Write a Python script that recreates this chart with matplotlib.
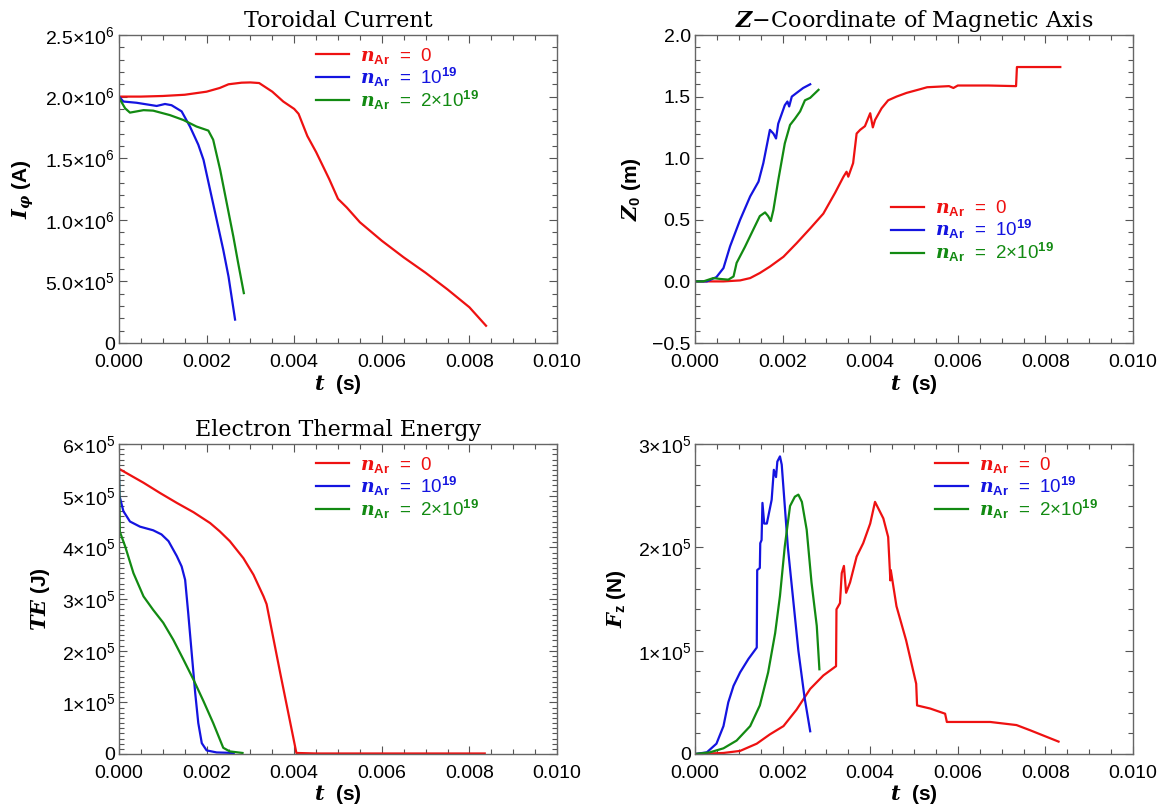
import numpy as np
import matplotlib
matplotlib.use('Agg')
import matplotlib.pyplot as plt
from matplotlib.ticker import MultipleLocator

plt.rcParams['font.family'] = ['Liberation Sans', 'DejaVu Sans']
plt.rcParams['mathtext.fontset'] = 'custom'
plt.rcParams['mathtext.it'] = 'DejaVu Serif:italic:bold'
plt.rcParams['mathtext.rm'] = 'Liberation Sans'
plt.rcParams['mathtext.bf'] = 'Liberation Sans:bold'

RED, BLUE, GREEN = '#ee1111', '#1414e0', '#128a12'

# --- toroidal current (A) ---
cur_t0 = [0, .0005, .001, .0015, .002, .0023, .0025, .0028, .003, .0032, .0035, .00375,
          .004, .0041, .0043, .0045, .0048, .005, .0052, .0055, .006, .0065, .007, .0075,
          .008, .00838]
cur_0 = [2.0, 2.0, 2.005, 2.015, 2.04, 2.07, 2.1, 2.113, 2.115, 2.11, 2.04, 1.96,
         1.9, 1.86, 1.68, 1.55, 1.33, 1.17, 1.1, 0.98, 0.83, 0.695, 0.57, 0.435,
         0.29, 0.14]
cur_t1 = [0, .0001, .0004, .00086, .00105, .0012, .00143, .00162, .00181, .00193, .00208,
          .00223, .00238, .0025, .00265]
cur_1 = [2.0, 1.96, 1.95, 1.924, 1.94, 1.93, 1.88, 1.757, 1.61, 1.486, 1.243,
         1.0, 0.757, 0.54, 0.19]
cur_t2 = [0, .00014, .00025, .00056, .00078, .00116, .00147, .00177, .00204, .00215,
          .00231, .00246, .00261, .00272, .00285]
cur_2 = [1.99, 1.905, 1.87, 1.89, 1.886, 1.85, 1.81, 1.757, 1.724, 1.65,
         1.405, 1.135, 0.865, 0.65, 0.405]

# --- Z of magnetic axis (m) ---
z_t0 = [0, .00065, .00103, .00126, .00148, .00171, .00202, .00232, .00263, .00293, .0032,
        .00339, .00346, .0035, .00361, .00369, .00377, .00388, .004, .00406, .00411,
        .00426, .00441, .0046, .00483, .00514, .0053, .0058, .0059, .006, .0067, .00733,
        .00735, .00834]
z_0 = [0, 0, .008, .027, .068, .12, .2, .31, .43, .55, .72,
       .85, .89, .85, .96, 1.2, 1.23, 1.26, 1.365, 1.25, 1.31,
       1.405, 1.47, 1.5, 1.53, 1.56, 1.576, 1.585, 1.57, 1.59, 1.59, 1.585,
       1.74, 1.74]
z_t1 = [0, .00027, .00049, .00065, .0008, .00103, .00126, .00145, .00156, .00171, .00179,
        .00185, .0019, .00205, .00211, .00215, .00221, .00232, .00247, .00263]
z_1 = [0, 0, .035, .108, .284, .5, .69, .81, .96, 1.23, 1.2,
       1.16, 1.28, 1.43, 1.46, 1.42, 1.5, 1.53, 1.57, 1.6]
z_t2 = [0, .00019, .00042, .00057, .00076, .00088, .00095, .00114, .00133, .00148, .0016,
        .00167, .00173, .00179, .0019, .00205, .00217, .00228, .0024, .00251, .00263, .00282]
z_2 = [0, 0, .027, .02, .014, .04, .15, .28, .42, .53, .56,
       .53, .49, .58, .82, 1.12, 1.27, 1.32, 1.38, 1.47, 1.49, 1.555]

# --- electron thermal energy (J) ---
te_t0 = [0, .00056, .00094, .00132, .0017, .00208, .0023, .00253, .00284, .00307, .0033,
         .00337, .00368, .00405, .0045, .006, .0075, .00835]
te_0 = [5.52, 5.25, 5.05, 4.86, 4.68, 4.47, 4.31, 4.12, 3.79, 3.47, 3.05,
        2.9, 1.57, 0.02, 0.01, 0.01, 0.01, 0.01]
te_t1 = [0, .00001, .0001, .00025, .00048, .00078, .00097, .00113, .00132, .00143, .00151,
         .00158, .00166, .00174, .00181, .00189, .002, .00223, .00262]
te_1 = [5.5, 5.0, 4.7, 4.5, 4.4, 4.33, 4.25, 4.12, 3.83, 3.63, 3.37,
        2.73, 1.95, 1.18, 0.6, 0.21, 0.07, 0.03, 0.02]
te_t2 = [0, .00002, .00014, .00033, .00056, .00078, .00101, .00124, .00147, .0017, .00193,
         .00215, .00238, .00253, .00282]
te_2 = [5.5, 4.3, 4.02, 3.5, 3.05, 2.79, 2.54, 2.21, 1.83, 1.44, 1.02,
        0.6, 0.12, 0.05, 0.02]

# --- vertical force (N) ---
f_t0 = [0, .00065, .00103, .00141, .00171, .00202, .00232, .00263, .00293, .00322, .00323,
        .00331, .00335, .0034, .00345, .00354, .00369, .00384, .004, .00411, .0043, .00441,
        .00444, .00446, .00447, .0046, .00482, .00505, .00507, .00537, .00571, .00575,
        .00597, .00674, .00734, .00765, .0083]
f_0 = [0, .01, .03, .1, .19, .27, .43, .63, .76, .85, 1.4,
       1.46, 1.75, 1.82, 1.56, 1.66, 1.91, 2.04, 2.23, 2.44, 2.28, 2.1,
       1.85, 1.68, 1.78, 1.43, 1.1, .68, .47, .44, .39, .31,
       .31, .31, .28, .23, .12]
f_t1 = [0, .00027, .00049, .00065, .00076, .00088, .00103, .00122, .00141, .00142, .00148,
        .00149, .00152, .00154, .00158, .00164, .00175, .0018, .00185, .00188, .00194,
        .00198, .00205, .00212, .00224, .00236, .0025, .00263]
f_1 = [0, .016, .1, .27, .5, .66, .79, .92, 1.03, 1.78, 1.8,
       2.04, 2.07, 2.43, 2.23, 2.23, 2.46, 2.75, 2.68, 2.83, 2.88,
       2.8, 2.4, 2.0, 1.5, 1.0, 0.55, 0.22]
f_t2 = [0, .00034, .00065, .00095, .00126, .00148, .00167, .00183, .00194, .00205, .00217,
        .00228, .00236, .00244, .00255, .00266, .00278, .00284]
f_2 = [0, .016, .055, .13, .27, .47, .79, 1.17, 1.53, 2.01, 2.4,
       2.49, 2.51, 2.44, 2.17, 1.66, 1.24, 0.82]

labels = [r'$n_{\mathbf{Ar}}$  =  0',
          r'$n_{\mathbf{Ar}}$  =  10$^{\mathbf{19}}$',
          r'$n_{\mathbf{Ar}}$  =  2×10$^{\mathbf{19}}$']
xticks = [0, .002, .004, .006, .008, .010]
xticklabels = ['0.000', '0.002', '0.004', '0.006', '0.008', '0.010']

fig = plt.figure(figsize=(11.6, 8.11), dpi=100)
W, H = 1160, 811


def make_ax(x0, y0, x1, y1):
    return fig.add_axes([x0 / W, 1 - y1 / H, (x1 - x0) / W, (y1 - y0) / H])


def style(ax, yticks, yticklabels, ylim, yminor, ylabel, title, leg_xy):
    ax.set_xlim(0, 0.01)
    ax.set_ylim(*ylim)
    ax.set_xticks(xticks, xticklabels)
    ax.set_yticks(yticks, yticklabels)
    ax.xaxis.set_minor_locator(MultipleLocator(0.0005))
    ax.yaxis.set_minor_locator(MultipleLocator(yminor))
    ax.tick_params(which='both', direction='in', top=True, right=True,
                   color='#555555', labelsize=14)
    ax.tick_params(which='major', length=6, width=0.8)
    ax.tick_params(which='minor', length=3.5, width=0.8)
    ax.tick_params(axis='x', pad=8)
    ax.tick_params(axis='y', pad=3)
    for s in ax.spines.values():
        s.set_color('#666666')
        s.set_linewidth(1.0)
    ax.set_xlabel(r'$t$  (s)', fontsize=15, fontweight='bold', labelpad=1)
    ax.set_ylabel(ylabel, fontsize=15, fontweight='bold', labelpad=7)
    if title:
        ax.set_title(title, family='DejaVu Serif', fontsize=16, pad=6)
    leg = ax.legend(loc='upper left', bbox_to_anchor=leg_xy, frameon=False,
                    fontsize=13.5, handlelength=1.75, handletextpad=0.6,
                    labelspacing=0.0, borderpad=0, borderaxespad=0,
                    labelcolor='linecolor')
    return leg


# top-left
ax = make_ax(119, 35, 557, 343)
ax.plot(cur_t0, np.array(cur_0) * 1e6, color=RED, lw=1.6, label=labels[0])
ax.plot(cur_t1, np.array(cur_1) * 1e6, color=BLUE, lw=1.6, label=labels[1])
ax.plot(cur_t2, np.array(cur_2) * 1e6, color=GREEN, lw=1.6, label=labels[2])
style(ax, [0, 5e5, 1e6, 1.5e6, 2e6, 2.5e6],
      ['0', r'5.0×10$^{\mathregular{5}}$', r'1.0×10$^{\mathregular{6}}$',
       r'1.5×10$^{\mathregular{6}}$', r'2.0×10$^{\mathregular{6}}$',
       r'2.5×10$^{\mathregular{6}}$'],
      (0, 2.5e6), 1e5, r'$I_{\varphi}$ (A)', 'Toroidal Current', (0.45, 0.965))

# top-right
ax = make_ax(695, 35, 1133, 343)
ax.plot(z_t0, z_0, color=RED, lw=1.6, label=labels[0])
ax.plot(z_t1, z_1, color=BLUE, lw=1.6, label=labels[1])
ax.plot(z_t2, z_2, color=GREEN, lw=1.6, label=labels[2])
style(ax, [-0.5, 0, 0.5, 1.0, 1.5, 2.0],
      ['−0.5', '0.0', '0.5', '1.0', '1.5', '2.0'],
      (-0.5, 2.0), 0.1, r'$Z_{\mathbf{0}}$ (m)',
      r'$Z$−Coordinate of Magnetic Axis', (0.447, 0.47))

# bottom-left
ax = make_ax(119, 444, 557, 754)
ax.plot(te_t0, np.array(te_0) * 1e5, color=RED, lw=1.6, label=labels[0])
ax.plot(te_t1, np.array(te_1) * 1e5, color=BLUE, lw=1.6, label=labels[1])
ax.plot(te_t2, np.array(te_2) * 1e5, color=GREEN, lw=1.6, label=labels[2])
style(ax, [0, 1e5, 2e5, 3e5, 4e5, 5e5, 6e5],
      ['0'] + [r'%d×10$^{\mathregular{5}}$' % k for k in range(1, 7)],
      (0, 6e5), 1e4, r'$TE$ (J)', 'Electron Thermal Energy', (0.45, 0.965))

# bottom-right
ax = make_ax(695, 444, 1133, 754)
ax.plot(f_t0, np.array(f_0) * 1e5, color=RED, lw=1.6, label=labels[0])
ax.plot(f_t1, np.array(f_1) * 1e5, color=BLUE, lw=1.6, label=labels[1])
ax.plot(f_t2, np.array(f_2) * 1e5, color=GREEN, lw=1.6, label=labels[2])
style(ax, [0, 1e5, 2e5, 3e5],
      ['0'] + [r'%d×10$^{\mathregular{5}}$' % k for k in range(1, 4)],
      (0, 3e5), 2e4, r'$F_{\mathbf{z}}$ (N)', None, (0.548, 0.965))

fig.savefig('out.png', dpi=100, facecolor='white')
